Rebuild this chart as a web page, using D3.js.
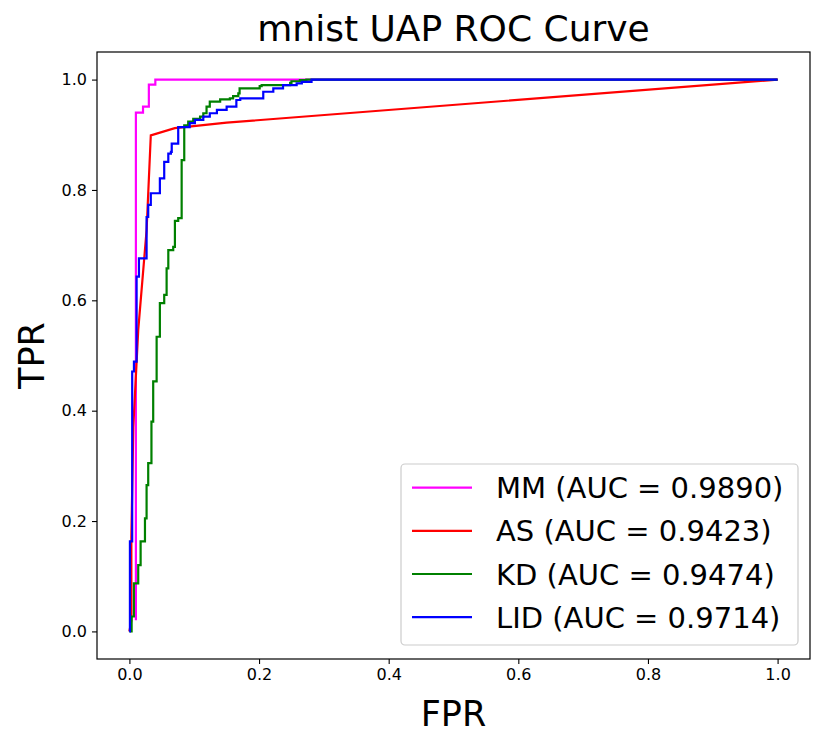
<!DOCTYPE html>
<html>
<head>
<meta charset="utf-8">
<script src="https://cdn.jsdelivr.net/npm/d3@7"></script>
<style>
  body { margin: 0; background: #fff; }
  svg { font-family: "DejaVu Sans", sans-serif; }
</style>
</head>
<body>
<div id="chart"></div>
<script>
// series names and AUC labels
var names = ["MM", "AS", "KD", "LID"];
var aucs = ["0.9890", "0.9423", "0.9474", "0.9714"];
var colors = ["#ff00ff", "#ff0000", "#008000", "#0000ff"];

var ticks = [0.0, 0.2, 0.4, 0.6, 0.8, 1.0];

// ROC points (fpr, tpr)
var mmFpr = [0.010, 0.010, 0.021, 0.030, 0.040, 1.0];
var mmTpr = [0.020, 0.940, 0.951, 0.991, 1.0, 1.0];

var asFpr = [0.0, 0.003, 0.003, 0.006, 0.0136, 0.0265, 0.033, 0.07, 0.15, 1.0];
var asTpr = [0.0, 0.02, 0.17, 0.37, 0.546, 0.727, 0.899, 0.912, 0.922, 1.0];

var kdFpr = [0.0, 0.0034, 0.0069, 0.0136, 0.0173, 0.024, 0.0265, 0.029, 0.034, 0.0367,
             0.042, 0.047, 0.0537, 0.0574, 0.060, 0.0676, 0.0702, 0.0753, 0.0806, 0.0846,
             0.0907, 0.0985, 0.109, 0.114, 0.119, 0.124, 0.140, 0.155, 0.160, 0.168,
             0.170, 0.201, 0.204, 0.248, 0.250, 0.263, 0.273, 1.0];
var kdTpr = [0.0, 0.027, 0.087, 0.120, 0.163, 0.205, 0.265, 0.305, 0.380, 0.453,
             0.534, 0.595, 0.610, 0.658, 0.691, 0.697, 0.744, 0.749, 0.854, 0.917,
             0.924, 0.929, 0.933, 0.939, 0.951, 0.960, 0.964, 0.966, 0.970, 0.975,
             0.984, 0.988, 0.990, 0.994, 0.997, 0.999, 1.0, 1.0];

var lidFpr = [0.0, 0.0008, 0.0043, 0.007, 0.0111, 0.0147, 0.0265, 0.029, 0.033, 0.047,
              0.0537, 0.060, 0.064, 0.0653, 0.0753, 0.093, 0.101, 0.114, 0.124, 0.135,
              0.150, 0.165, 0.171, 0.2065, 0.222, 0.237, 0.258, 0.266, 0.281, 1.0];
var lidTpr = [0.0, 0.163, 0.471, 0.489, 0.643, 0.676, 0.751, 0.773, 0.794, 0.821,
              0.851, 0.866, 0.869, 0.884, 0.914, 0.921, 0.927, 0.933, 0.939, 0.945,
              0.951, 0.963, 0.966, 0.978, 0.984, 0.990, 0.993, 0.996, 1.0, 1.0];

var W = 830, H = 745;
var pLeft = 97, pRight = 810, pTop = 52, pBottom = 659;

var svg = d3.select("#chart").append("svg")
    .attr("width", W)
    .attr("height", H);

var x = d3.scaleLinear().domain([-0.05, 1.05]).range([pLeft, pRight]);
var y = d3.scaleLinear().domain([-0.05, 1.05]).range([pBottom, pTop]);

function zip(a, b) { return a.map(function(v, i) { return [v, b[i]]; }); }

var series = [
  { pts: zip(mmFpr, mmTpr), curve: d3.curveStepAfter },
  { pts: zip(asFpr, asTpr), curve: d3.curveLinear },
  { pts: zip(kdFpr, kdTpr), curve: d3.curveStepAfter },
  { pts: zip(lidFpr, lidTpr), curve: d3.curveStepAfter }
];

var g = svg.append("g");
series.forEach(function(s, i) {
  var line = d3.line()
      .x(function(d) { return x(d[0]); })
      .y(function(d) { return y(d[1]); })
      .curve(s.curve);
  g.append("path")
      .datum(s.pts)
      .attr("d", line)
      .attr("fill", "none")
      .attr("stroke", colors[i])
      .attr("stroke-width", 2.2)
      .attr("stroke-linejoin", "miter");
});

// axes
var xAxis = svg.append("g")
    .attr("transform", "translate(0," + pBottom + ")")
    .call(d3.axisBottom(x).tickValues(ticks).tickFormat(d3.format(".1f")).tickSize(5).tickPadding(5));
var yAxis = svg.append("g")
    .attr("transform", "translate(" + pLeft + ",0)")
    .call(d3.axisLeft(y).tickValues(ticks).tickFormat(d3.format(".1f")).tickSize(5).tickPadding(5));
[xAxis, yAxis].forEach(function(a) {
  a.select(".domain").remove();
  a.selectAll("text").attr("font-size", 16).attr("font-family", "DejaVu Sans").attr("fill", "#000");
  a.selectAll("line").attr("stroke", "#000").attr("stroke-width", 1.1);
});

svg.append("rect")
    .attr("x", pLeft).attr("y", pTop)
    .attr("width", pRight - pLeft).attr("height", pBottom - pTop)
    .attr("fill", "none")
    .attr("stroke", "#000")
    .attr("stroke-width", 1.2);

// title and labels
svg.append("text")
    .attr("x", (pLeft + pRight) / 2).attr("y", 41)
    .attr("text-anchor", "middle")
    .attr("font-size", 36)
    .text("mnist UAP ROC Curve");

svg.append("text")
    .attr("x", (pLeft + pRight) / 2).attr("y", 726)
    .attr("text-anchor", "middle")
    .attr("font-size", 35)
    .text("FPR");

svg.append("text")
    .attr("transform", "translate(44," + (pTop + pBottom) / 2 + ")rotate(-90)")
    .attr("text-anchor", "middle")
    .attr("font-size", 35)
    .text("TPR");

// legend
var leg = svg.append("g");
leg.append("rect")
    .attr("x", 401).attr("y", 464)
    .attr("width", 397).attr("height", 181)
    .attr("rx", 4)
    .attr("fill", "#fff")
    .attr("fill-opacity", 0.8)
    .attr("stroke", "#cccccc")
    .attr("stroke-width", 1.2);

names.forEach(function(n, i) {
  var ly = 487.6 + i * 43.2;
  leg.append("line")
      .attr("x1", 412).attr("x2", 472)
      .attr("y1", ly).attr("y2", ly)
      .attr("stroke", colors[i])
      .attr("stroke-width", 2.2);
  leg.append("text")
      .attr("x", 496).attr("y", ly + 10.5)
      .attr("font-size", 29)
      .text(n + " (AUC = " + aucs[i] + ")");
});
</script>
</body>
</html>
